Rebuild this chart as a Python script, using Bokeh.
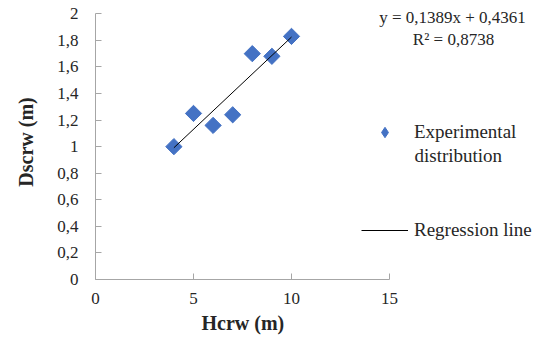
import math
from bokeh.plotting import figure
from bokeh.models import (Range1d, FixedTicker, CustomJSTickFormatter, Legend,
                          LegendItem, Label, ColumnDataSource, Title)
from bokeh.embed import file_html
from bokeh.resources import INLINE

# data
hcrw = [4, 5, 6, 7, 8, 9, 10]
dscrw = [1.00, 1.25, 1.16, 1.24, 1.70, 1.68, 1.83]
slope = 0.1389
intercept = 0.4361
r2 = 0.8738
x_ticks = [0, 5, 10, 15]
y_ticks = [0, 0.2, 0.4, 0.6, 0.8, 1.0, 1.2, 1.4, 1.6, 1.8, 2.0]
x_title = "Hcrw (m)"
y_title = "Dscrw (m)"

FONT = "'Liberation Serif', serif"
TXT = "#262626"
AX = "#A6A6A6"
BLUE = "#4472C4"

W, H = 534, 341
p = figure(width=W, height=H, output_backend="svg", toolbar_location=None,
           x_range=Range1d(0, (W - 95) / 19.6), y_range=Range1d(0, 2.07),
           min_border_left=95, min_border_right=0, min_border_top=4,
           min_border_bottom=62)
p.outline_line_color = None
p.grid.visible = False

p.axis.axis_line_color = AX
p.axis.major_tick_line_color = AX
p.axis.minor_tick_line_color = None
p.axis.major_tick_out = 0
p.axis.major_tick_in = 6
p.axis.major_label_text_font = FONT
p.axis.major_label_text_font_size = "17px"
p.axis.major_label_text_color = TXT
p.axis.axis_label_text_font = FONT
p.axis.axis_label_text_font_size = "20px"
p.axis.axis_label_text_font_style = "bold"
p.axis.axis_label_text_color = TXT

p.xaxis.bounds = (x_ticks[0], x_ticks[-1])
p.yaxis.bounds = (y_ticks[0], y_ticks[-1])
p.xaxis.ticker = FixedTicker(ticks=x_ticks)
p.yaxis.ticker = FixedTicker(ticks=y_ticks)
p.yaxis.formatter = CustomJSTickFormatter(
    code="return (Math.round(tick*10)/10).toString().replace('.', ',');")
p.yaxis.axis_label = y_title
p.xaxis.major_label_standoff = 13
p.yaxis.major_label_standoff = 17
p.yaxis.axis_label_standoff = 17

# x-axis title, centred under the bounded axis (0..15)
p.add_layout(Title(text=x_title, align="left", offset=106, standoff=10,
                   vertical_align="top", text_font=FONT,
                   text_font_size="20px", text_font_style="bold",
                   text_color=TXT), "below")

pts = p.scatter(hcrw, dscrw, marker="square", size=11.5, angle=math.pi / 4,
                fill_color=BLUE, line_color=BLUE)
lx = [min(hcrw), max(hcrw)]
ly = [slope * v + intercept for v in lx]
ln = p.line(lx, ly, line_color="black", line_width=1)

# legend key proxy (a single undefined point, never drawn in the plot)
nan = float("nan")
key = p.scatter(x="x", y="y", source=ColumnDataSource(data=dict(x=[nan], y=[nan])),
                marker="diamond", size=12, fill_color=BLUE, line_color=BLUE)

common = dict(background_fill_alpha=0, border_line_alpha=0, padding=0,
              margin=0, spacing=0, label_standoff=6, glyph_width=47,
              label_text_font=FONT, label_text_font_size="19px",
              label_text_color=TXT)
leg1 = Legend(items=[LegendItem(label="Experimental", renderers=[key])],
              location=(266, 134), glyph_height=26, label_height=26, **common)
leg2 = Legend(items=[LegendItem(label="Regression line", renderers=[ln])],
              location=(266, 38), glyph_height=20, label_height=20, **common)
p.add_layout(leg1)
p.add_layout(leg2)

lab_kw = dict(x_units="screen", y_units="screen", text_font=FONT,
              text_color=TXT)
p.add_layout(Label(x=319, y=124, text="distribution", text_baseline="middle",
                   text_font_size="19px", **lab_kw))
eq = "y = " + f"{slope:.4f}".replace(".", ",") + "x + " + f"{intercept:.4f}".replace(".", ",")
p.add_layout(Label(x=357, y=262, text=eq, text_align="center",
                   text_baseline="middle", text_font_size="17px", **lab_kw))
p.add_layout(Label(x=358, y=240, text="R² = " + f"{r2:.4f}".replace(".", ","),
                   text_align="center", text_baseline="middle",
                   text_font_size="17px", **lab_kw))

open("out.html", "w").write(file_html(p, INLINE))
